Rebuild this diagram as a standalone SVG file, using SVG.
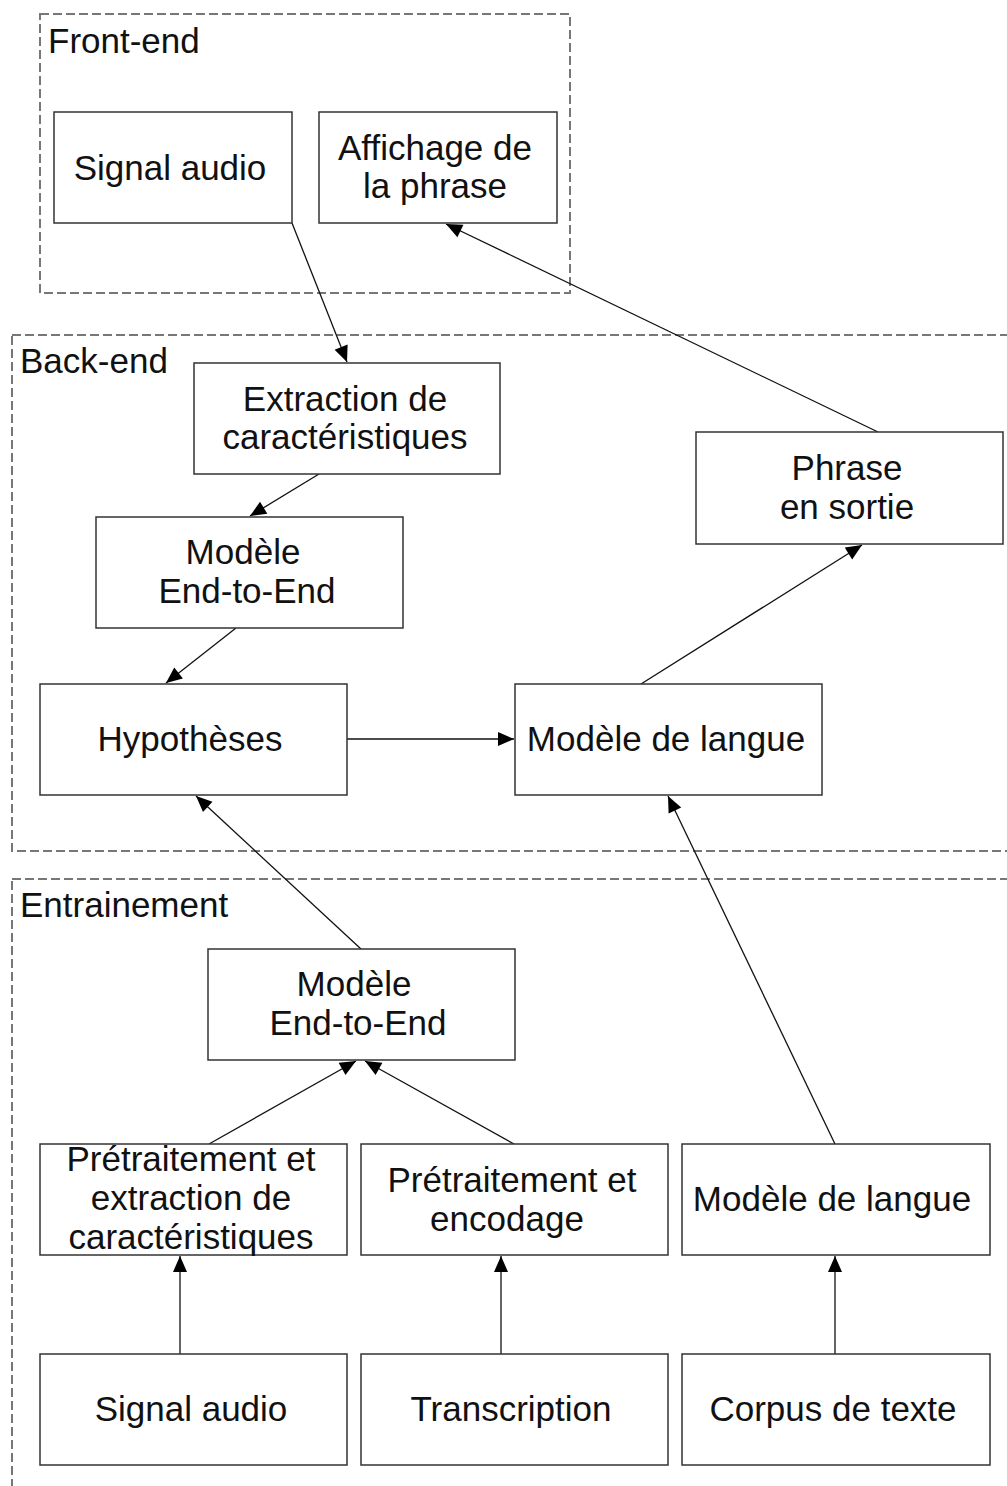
<svg xmlns="http://www.w3.org/2000/svg" width="1007" height="1486" viewBox="0 0 1007 1486">
<style>
.cl{fill:none;stroke:#777;stroke-width:2;stroke-dasharray:9 4}
.nd{fill:#fff;stroke:#333;stroke-width:1.5}
.t{font-family:"Liberation Sans",Arial,sans-serif;font-size:35px;fill:#111;text-anchor:middle}
.cl-t{font-family:"Liberation Sans",Arial,sans-serif;font-size:35px;fill:#111}
.e{fill:none;stroke:#111;stroke-width:1.3;marker-end:url(#ah)}
</style>
<defs>
<marker id="ah" markerUnits="userSpaceOnUse" markerWidth="18" markerHeight="16" refX="16" refY="7" orient="auto" overflow="visible">
<path d="M0,0 L16,7 L0,14 z" fill="#000"/>
</marker>
</defs>
<rect width="1007" height="1486" fill="#fff"/>
<g id="cluster-frontend"><rect class="cl" x="40" y="14" width="530" height="279"/><text class="cl-t" x="48" y="53">Front-end</text></g>
<g id="cluster-backend"><rect class="cl" x="12" y="335" width="1010" height="516"/><text class="cl-t" x="20" y="373">Back-end</text></g>
<g id="cluster-entrainement"><rect class="cl" x="12" y="879" width="1010" height="640"/><text class="cl-t" x="20" y="917">Entrainement</text></g>

<g id="edges">
<path class="e" d="M292,223 L347,362"/>
<path class="e" d="M878,432 L446,224"/>
<path class="e" d="M319,474 L250,516"/>
<path class="e" d="M236,628 L166,683"/>
<path class="e" d="M347,739 L514,739"/>
<path class="e" d="M641,684 L862,545"/>
<path class="e" d="M361,949 L196,796"/>
<path class="e" d="M835,1144 L668,796"/>
<path class="e" d="M209,1144 L356,1061"/>
<path class="e" d="M514,1144 L365,1061"/>
<path class="e" d="M180,1354 L180,1256"/>
<path class="e" d="M501,1354 L501,1256"/>
<path class="e" d="M835,1354 L835,1256"/>
</g>

<g id="n-signal-fe"><rect class="nd" x="54" y="112" width="238" height="111"/><text class="t" x="170" y="180">Signal audio</text></g>
<g id="n-affichage"><rect class="nd" x="319" y="112" width="238" height="111"/><text class="t" x="435" y="160">Affichage de</text><text class="t" x="435" y="198">la phrase</text></g>
<g id="n-extraction"><rect class="nd" x="194" y="363" width="306" height="111"/><text class="t" x="345" y="411">Extraction de</text><text class="t" x="345" y="449">caractéristiques</text></g>
<g id="n-phrase"><rect class="nd" x="696" y="432" width="307" height="112"/><text class="t" x="847" y="480">Phrase</text><text class="t" x="847" y="519">en sortie</text></g>
<g id="n-e2e-be"><rect class="nd" x="96" y="517" width="307" height="111"/><text class="t" x="243" y="564">Modèle</text><text class="t" x="247" y="603">End-to-End</text></g>
<g id="n-hyp"><rect class="nd" x="40" y="684" width="307" height="111"/><text class="t" x="190" y="751">Hypothèses</text></g>
<g id="n-lm-be"><rect class="nd" x="515" y="684" width="307" height="111"/><text class="t" x="666" y="751">Modèle de langue</text></g>
<g id="n-e2e-tr"><rect class="nd" x="208" y="949" width="307" height="111"/><text class="t" x="354" y="996">Modèle</text><text class="t" x="358" y="1035">End-to-End</text></g>
<g id="n-pre-ext"><rect class="nd" x="40" y="1144" width="307" height="111"/><text class="t" x="191" y="1171">Prétraitement et</text><text class="t" x="191" y="1210">extraction de</text><text class="t" x="191" y="1249">caractéristiques</text></g>
<g id="n-pre-enc"><rect class="nd" x="361" y="1144" width="307" height="111"/><text class="t" x="512" y="1192">Prétraitement et</text><text class="t" x="507" y="1231">encodage</text></g>
<g id="n-lm-tr"><rect class="nd" x="682" y="1144" width="308" height="111"/><text class="t" x="832" y="1211">Modèle de langue</text></g>
<g id="n-signal-tr"><rect class="nd" x="40" y="1354" width="307" height="111"/><text class="t" x="191" y="1421">Signal audio</text></g>
<g id="n-transcription"><rect class="nd" x="361" y="1354" width="307" height="111"/><text class="t" x="511" y="1421">Transcription</text></g>
<g id="n-corpus"><rect class="nd" x="682" y="1354" width="308" height="111"/><text class="t" x="833" y="1421">Corpus de texte</text></g>
</svg>
